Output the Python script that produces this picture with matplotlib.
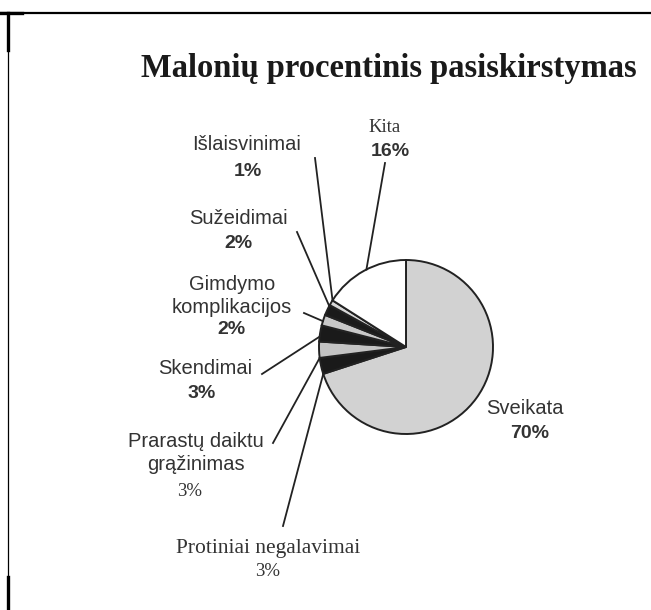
import numpy as np
import matplotlib.pyplot as plt
from matplotlib.lines import Line2D

# data
labels = ['Sveikata', 'Protiniai negalavimai', 'Prarastų daiktu\ngrąžinimas', 'Skendimai',
          'Gimdymo\nkomplikacijos', 'Sužeidimai', 'Išlaisvinimai', 'Kita']
values = [70, 3, 3, 3, 2, 2, 1, 16]
colors = ['#d2d2d2', '#1a1a1a', '#c4c4c4', '#1a1a1a', '#c8c8c8', '#1a1a1a', '#d8d8d8', '#ffffff']

W, H = 651, 610
CX, CY, R = 406, 347, 87

def P(x, y):
    # pixel (from top-left) -> data units, pie radius = 1
    return ((x - CX) / R, (CY - y) / R)

fig = plt.figure(figsize=(6.51, 6.10), dpi=100)
ax = fig.add_axes([0, 0, 1, 1])

wedges, _ = ax.pie(values, colors=colors, startangle=90, counterclock=False, radius=1,
                   wedgeprops=dict(edgecolor='#222222', linewidth=1.4))
ax.set_xlim(-CX / R, (W - CX) / R)
ax.set_ylim(-(H - CY) / R, CY / R)
ax.set_aspect('equal')
ax.axis('off')

serif = 'Liberation Serif'
sans = 'Liberation Sans'

# label layout in pixels: name pos, pct pos, leader start, where the leader hits the wedge (0..1)
layout = {
    'Sveikata': dict(name=(525, 408), pct=(530, 434), line=None),
    'Protiniai negalavimai': dict(name=(268, 548), pct=(268, 572), line=(283, 526), frac=1.0,
                                  nfam=serif, nsize=15.5, pfam=serif, psize=13.5),
    'Prarastų daiktu\ngrąžinimas': dict(name=(196, 453), pct=(190, 492), line=(273, 443), frac=1.0,
                                        pfam=serif, psize=13.5),
    'Skendimai': dict(name=(205, 368), pct=(202, 393), line=(262, 374), frac=0.7),
    'Gimdymo\nkomplikacijos': dict(name=(232, 296), pct=(231, 330), line=(304, 313), frac=0.6),
    'Sužeidimai': dict(name=(238, 219), pct=(238, 243), line=(297, 232), frac=0.1),
    'Išlaisvinimai': dict(name=(247, 145), pct=(248, 172), line=(315, 158), frac=0.0),
    'Kita': dict(name=(385, 127), pct=(390, 152), line=(385, 163), frac=0.47,
                 nfam=serif, nsize=13.5),
}

for w, lab, v in zip(wedges, labels, values):
    L = layout[lab]
    ax.text(*P(*L['name']), lab, ha='center', va='center', fontsize=L.get('nsize', 14.5),
            family=L.get('nfam', sans), color='#333333', linespacing=1.28)
    pfam = L.get('pfam', sans)
    ax.text(*P(*L['pct']), f'{v}%', ha='center', va='center', fontsize=L.get('psize', 14),
            family=pfam, weight='normal' if pfam == serif else 'bold', color='#333333')
    if L['line'] is not None:
        ang = np.deg2rad(w.theta1 + L['frac'] * (w.theta2 - w.theta1))
        ex, ey = np.cos(ang), np.sin(ang)
        sx, sy = P(*L['line'])
        ax.plot([sx, ex], [sy, ey], color='#222222', lw=1.3)

ax.text(*P(389, 68), 'Malonių procentinis pasiskirstymas', ha='center', va='center',
        fontsize=23.5, family=serif, weight='bold', color='#1a1a1a')

# frame lines of the scan
fig.add_artist(Line2D([0, 1], [1 - 12.5 / H] * 2, color='black', lw=1.6, transform=fig.transFigure))
fig.add_artist(Line2D([0, 22 / W], [1 - 12.5 / H] * 2, color='black', lw=2.4, transform=fig.transFigure))
fig.add_artist(Line2D([7.5 / W] * 2, [0, 1 - 12.5 / H], color='black', lw=0.9, transform=fig.transFigure))
fig.add_artist(Line2D([7.5 / W] * 2, [1 - 12.5 / H, 1 - 50 / H], color='black', lw=2.4, transform=fig.transFigure))
fig.add_artist(Line2D([7.5 / W] * 2, [0, 1 - 577 / H], color='black', lw=2.4, transform=fig.transFigure))

fig.savefig('out.png', dpi=100)
